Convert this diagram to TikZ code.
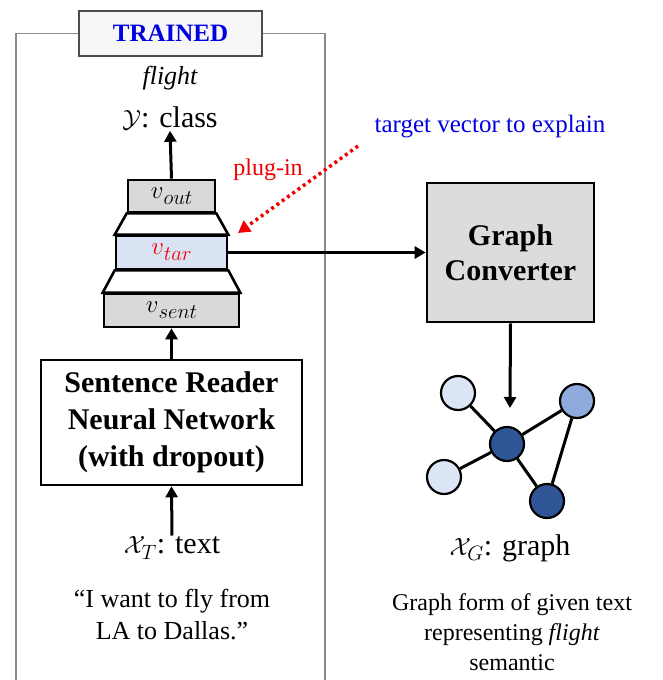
\documentclass[tikz,border=0pt]{standalone}
\usepackage{fontspec}
\setmainfont{LiberationSerif}[Extension=.ttf, UprightFont=*-Regular, BoldFont=*-Bold, ItalicFont=*-Italic, BoldItalicFont=*-BoldItalic]
\usetikzlibrary{arrows.meta}

\definecolor{framegray}{HTML}{8A8A8A}
\definecolor{boxgray}{HTML}{D9D9D9}
\definecolor{convgray}{HTML}{DCDCDC}
\definecolor{tarblue}{HTML}{DAE3F3}
\definecolor{titleblue}{HTML}{0000E0}
\definecolor{plugred}{HTML}{F00000}
\definecolor{nodelight}{HTML}{DCE5F5}
\definecolor{nodemid}{HTML}{8FAADC}
\definecolor{nodedark}{HTML}{2F5597}

\newcommand\fsz[2]{\fontsize{#1}{#2}\selectfont}
% vector name with a large subscript
\newcommand\vsub[1]{$v$\raisebox{-6pt}{\fsz{21}{22}$#1$}}

\begin{document}
\begin{tikzpicture}[x=1pt,y=-1pt,
  vbox/.style={draw, line width=2.6pt, fill=boxgray, inner sep=0pt, font=\fsz{30}{30}},
  trap/.style={draw, line width=2.6pt, fill=white, line join=miter},
  bigbox/.style={draw, line width=2.6pt, align=center, inner sep=0pt, font=\fsz{30}{37}\bfseries},
  arr/.style={line width=3pt, -{Triangle[length=11pt,width=12pt]}},
  gnode/.style={circle, draw, line width=2.2pt, minimum size=34pt, inner sep=0pt},
  gedge/.style={line width=3pt},
  lbl/.style={inner sep=1pt, align=center}
]
\useasboundingbox (0,0) rectangle (663,680);

% frame title and open frame
\node[draw=black!70, line width=1.5pt, fill=black!3, minimum width=183pt, minimum height=45pt,
      font=\fsz{25}{28}\bfseries, text=titleblue] (trained) at (170.5,33.5) {TRAINED};
\draw[framegray, line width=1.4pt] (16,680) |- (trained.west);
\draw[framegray, line width=1.4pt] (trained.east) -| (325,680);

% outputs
\node[lbl, font=\fsz{26}{28}\itshape] (flight) at (170,78) {flight};
\node[lbl, font=\fsz{30}{32}] (cls) at (170,118) {$\mathcal{Y}$: class};

% stacked vectors
\node[vbox, minimum width=87pt, minimum height=32pt] (vout) at (171.5,196) {\vsub{out}};
\node[vbox, fill=tarblue, minimum width=111pt, minimum height=33pt, text=plugred] (vtar) at (171.5,252.5) {\vsub{tar}};
\node[vbox, minimum width=135pt, minimum height=33pt] (vsent) at (171.5,310.5) {\vsub{sent}};
\draw[trap] (vout.south west) -- (vout.south east) -- (vtar.north east) -- (vtar.north west) -- cycle;
\draw[trap] (vtar.south west) -- (vtar.south east) -- (vsent.north east) -- (vsent.north west) -- cycle;

% reader network and input
\node[bigbox, minimum width=261pt, minimum height=125pt] (reader) at (171.5,422.5)
  {Sentence Reader\\Neural Network\\(with dropout)};
\node[lbl, font=\fsz{30}{32}] (xt) at (172,548) {$\mathcal{X}_T$: text};
\node[lbl, font=\fsz{26}{32}] (quote) at (172,615) {“I want to fly from\\LA to Dallas.”};

% converter
\node[bigbox, fill=convgray, minimum width=167pt, minimum height=139pt, font=\fsz{30}{35}\bfseries]
  (conv) at (510.5,252.5) {Graph\\Converter};

% graph
\node[gnode, fill=nodelight] (g1) at (458,393) {};
\node[gnode, fill=nodelight] (g2) at (444,477) {};
\node[gnode, fill=nodedark]  (g3) at (507,444) {};
\node[gnode, fill=nodemid]   (g4) at (577,401) {};
\node[gnode, fill=nodedark]  (g5) at (547,501) {};
\draw[gedge] (g1) -- (g3);
\draw[gedge] (g2) -- (g3);
\draw[gedge] (g3) -- (g4);
\draw[gedge] (g3) -- (g5);
\draw[gedge] (g4) -- (g5);

\node[lbl, font=\fsz{30}{32}] (xg) at (510,548) {$\mathcal{X}_G$: graph};
\node[lbl, font=\fsz{24}{30}] (desc) at (512,632) {Graph form of given text\\representing \textit{flight}\\semantic};

% annotations
\node[lbl, font=\fsz{25}{28}, text=titleblue] (target) at (490,127) {target vector to explain};
\node[lbl, font=\fsz{24}{28}, text=plugred] (plugin) at (268,170) {plug-in};

% connectors
\coordinate (gtip) at (510,408);
\coordinate (plugsrc) at (358,146);
\coordinate (plugtip) at (238,233);
\draw[arr] (vout.north) -- (cls.south);
\draw[arr] (reader.north) -- (vsent.south);
\draw[arr] (xt.north) -- (reader.south);
\draw[arr] (vtar.east) -- (conv.west);
\draw[arr] (conv.south) -- (gtip);
\draw[plugred, line width=3.5pt, dash pattern=on 3pt off 3.5pt, -{Triangle[length=12pt,width=13pt]}] (plugsrc) -- (plugtip);
\end{tikzpicture}
\end{document}
